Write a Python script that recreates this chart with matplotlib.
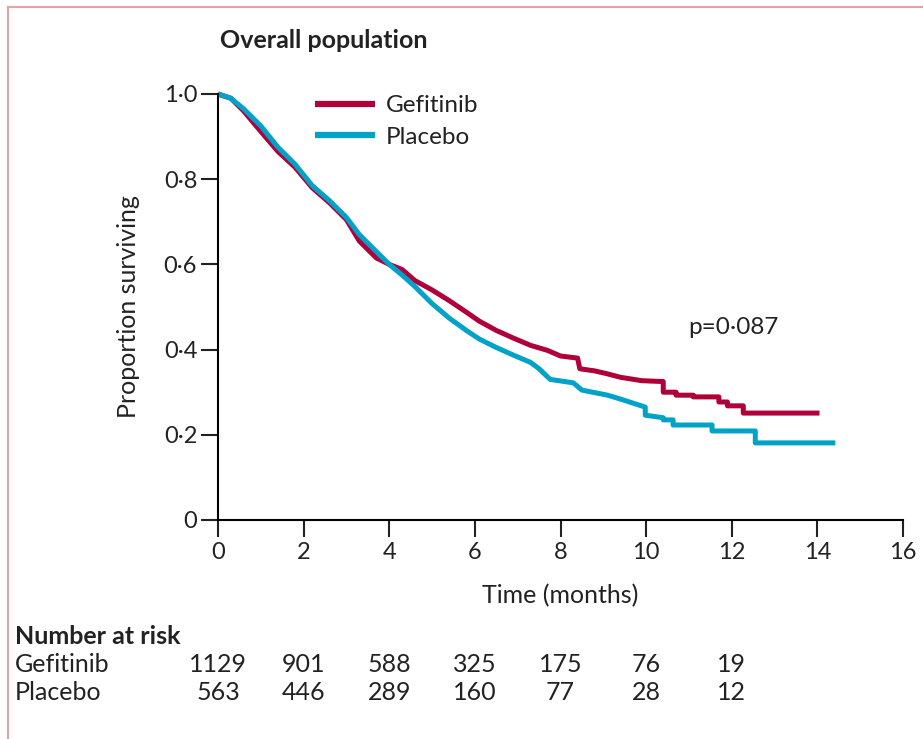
import matplotlib
matplotlib.use('Agg')
import matplotlib.pyplot as plt
from matplotlib.lines import Line2D
from matplotlib.transforms import blended_transform_factory

plt.rcParams['font.family'] = ['Lato', 'DejaVu Sans']

# Kaplan-Meier curves (months, proportion surviving)
gef_t = [0, 0.3, 0.6, 1.0, 1.4, 1.8, 2.2, 2.6, 3.0, 3.3, 3.7, 4.0, 4.3, 4.6, 5.0, 5.4, 5.8, 6.1,
         6.5, 6.9, 7.3, 7.7, 8.0, 8.4, 8.45, 8.8, 9.1, 9.4, 9.9, 10.4, 10.4, 10.7, 10.7, 11.1,
         11.1, 11.7, 11.7, 11.9, 11.9, 12.27, 12.27, 14.05]
gef_s = [1.0, 0.99, 0.96, 0.912, 0.865, 0.828, 0.78, 0.745, 0.705, 0.655, 0.615, 0.60, 0.588,
         0.562, 0.54, 0.515, 0.488, 0.467, 0.445, 0.427, 0.41, 0.398, 0.385, 0.38, 0.355, 0.35,
         0.343, 0.335, 0.327, 0.325, 0.30, 0.30, 0.293, 0.293, 0.289, 0.289, 0.277, 0.277,
         0.268, 0.268, 0.251, 0.251]

pla_t = [0, 0.3, 0.6, 1.0, 1.4, 1.8, 2.2, 2.6, 3.0, 3.3, 3.7, 4.0, 4.3, 4.6, 5.0, 5.4, 5.8, 6.1,
         6.5, 6.9, 7.3, 7.5, 7.76, 8.3, 8.5, 9.1, 9.46, 9.98, 9.98, 10.4, 10.4, 10.63, 10.63,
         11.54, 11.54, 12.55, 12.55, 14.42]
pla_s = [1.0, 0.99, 0.965, 0.925, 0.875, 0.835, 0.785, 0.75, 0.71, 0.67, 0.63, 0.60, 0.575,
         0.548, 0.508, 0.474, 0.445, 0.425, 0.405, 0.387, 0.37, 0.355, 0.33, 0.322, 0.305,
         0.293, 0.282, 0.265, 0.246, 0.24, 0.235, 0.235, 0.223, 0.223, 0.209, 0.209, 0.181,
         0.181]

risk_times = [0, 2, 4, 6, 8, 10, 12]
risk_gef = [1129, 901, 588, 325, 175, 76, 19]
risk_pla = [563, 446, 289, 160, 77, 28, 12]

x_ticks = [0, 2, 4, 6, 8, 10, 12, 14, 16]
y_ticks = [0, 0.2, 0.4, 0.6, 0.8, 1.0]
y_labels = ['0', '0·2', '0·4', '0·6', '0·8', '1·0']

red = '#b0003a'
cyan = '#00a2c7'
ink = '#222222'

fig = plt.figure(figsize=(9.23, 7.39), dpi=100)
ax = fig.add_axes([218 / 923, 1 - 520 / 739, 685 / 923, 426 / 739])

ax.plot(gef_t, gef_s, color=red, lw=3.6, clip_on=False, label='Gefitinib', solid_capstyle='butt')
ax.plot(pla_t, pla_s, color=cyan, lw=3.6, clip_on=False, label='Placebo', solid_capstyle='butt')

ax.set_xlim(0, 16)
ax.set_ylim(0, 1)
ax.set_xticks(x_ticks)
ax.set_xticklabels([str(x) for x in x_ticks])
ax.set_yticks(y_ticks)
ax.set_yticklabels(y_labels)

for s in ['top', 'right']:
    ax.spines[s].set_visible(False)
for s in ['left', 'bottom']:
    ax.spines[s].set_linewidth(1.5)
ax.tick_params(axis='both', direction='out', length=12, width=1.5, labelsize=17, colors=ink)
ax.tick_params(axis='x', pad=4)
ax.tick_params(axis='y', pad=3)

ax.set_xlabel('Time (months)', fontsize=18, color=ink)
ax.set_ylabel('Proportion surviving', fontsize=18, color=ink)
ax.xaxis.set_label_coords(0.5, (520 - 584) / 426)
ax.yaxis.set_label_coords((140 - 218) / 685, 0.5)

ax.text(0.003, (520 - 40) / 426, 'Overall population', transform=ax.transAxes,
        fontsize=18, fontweight='bold', va='center', ha='left', color=ink)

leg = ax.legend(loc='upper left', bbox_to_anchor=((315 - 218) / 685, (520 - 95) / 426),
                frameon=False, fontsize=17.5, handlelength=2.45, handletextpad=0.45,
                labelspacing=0.45, borderpad=0, borderaxespad=0)
for line in leg.get_lines():
    line.set_linewidth(4.5)
for t in leg.get_texts():
    t.set_color(ink)

ax.text((688 - 218) / 42.8, (520 - 328) / 426, 'p=0·087', fontsize=17.5, ha='left', va='center',
        color=ink)

# number at risk table
tr = blended_transform_factory(ax.transData, fig.transFigure)
fig.text(15 / 923, 1 - 637 / 739, 'Number at risk', fontsize=18, fontweight='bold',
         va='center', ha='left', color=ink)
fig.text(15 / 923, 1 - 665 / 739, 'Gefitinib', fontsize=18, va='center', ha='left', color=ink)
fig.text(15 / 923, 1 - 692 / 739, 'Placebo', fontsize=18, va='center', ha='left', color=ink)
for t, g, p in zip(risk_times, risk_gef, risk_pla):
    ax.text(t, 1 - 665 / 739, str(g), transform=tr, fontsize=18, ha='center', va='center',
            color=ink, clip_on=False)
    ax.text(t, 1 - 692 / 739, str(p), transform=tr, fontsize=18, ha='center', va='center',
            color=ink, clip_on=False)

# pink frame lines on top and left
fig.add_artist(Line2D([8 / 923, 1], [1 - 7 / 739, 1 - 7 / 739], transform=fig.transFigure,
                      color='#e6a3a3', lw=1.5))
fig.add_artist(Line2D([8 / 923, 8 / 923], [0, 1 - 7 / 739], transform=fig.transFigure,
                      color='#e6a3a3', lw=1.5))

fig.savefig('out.png', dpi=100)
